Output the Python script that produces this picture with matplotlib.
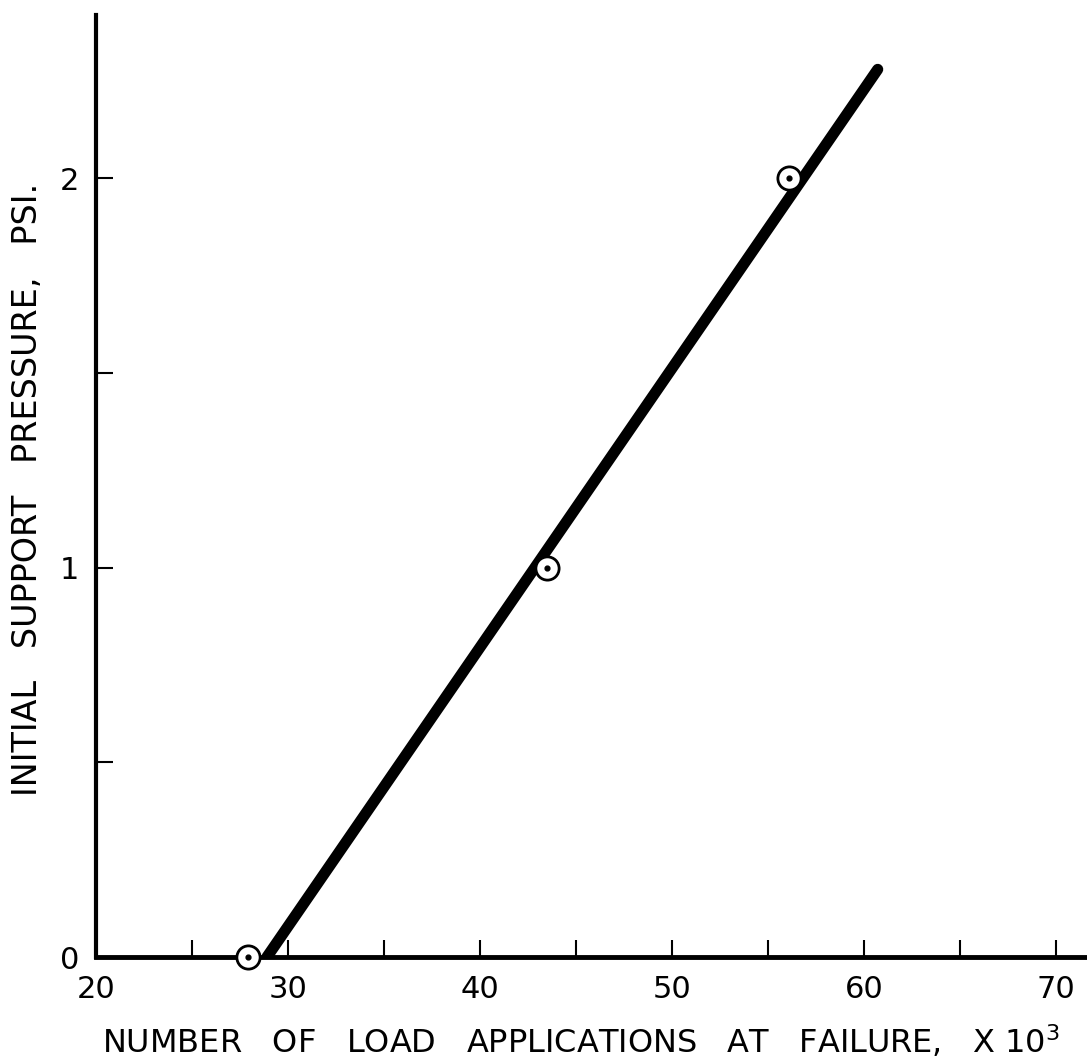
import matplotlib
matplotlib.use('Agg')
import matplotlib.pyplot as plt
import numpy as np

# data
line_x = [28.9, 60.7]
line_y = [0.0, 2.28]
pts_x = [27.9, 43.5, 56.1]
pts_y = [0.0, 1.0, 2.0]
xticks_major = [20, 30, 40, 50, 60, 70]
xticks_minor = [25, 35, 45, 55, 65]
yticks_major = [0, 1, 2]
yticks_minor = [0.5, 1.5]

plt.rcParams['font.family'] = ['DejaVu Sans']
fig = plt.figure(figsize=(10.87, 10.61), dpi=100)
ax = fig.add_axes([0.0883, 0.098, 0.910, 0.888])

ax.plot(line_x, line_y, color='black', lw=8, solid_capstyle='round', zorder=2)
ax.scatter(pts_x, pts_y, s=280, facecolor='white', edgecolor='black', linewidth=2, zorder=3, clip_on=False)
ax.scatter(pts_x, pts_y, s=12, color='black', zorder=4, clip_on=False)

ax.set_xlim(20, 71.5)
ax.set_ylim(0, 2.42)
for s in ['top', 'right']:
    ax.spines[s].set_visible(False)
ax.spines['left'].set_linewidth(3)
ax.spines['bottom'].set_linewidth(3.5)

ax.set_xticks(xticks_major)
ax.set_xticks(xticks_minor, minor=True)
ax.set_yticks(yticks_major)
ax.set_yticks(yticks_minor, minor=True)
ax.tick_params(which='both', direction='in', length=12, width=1.5, labelsize=22)
ax.tick_params(axis='x', which='major', pad=13)
ax.tick_params(axis='y', which='major', pad=12)

ax.set_xlabel('NUMBER   OF   LOAD   APPLICATIONS   AT   FAILURE,   X 10$^{3}$',
              fontsize=23, va='center')
ax.set_ylabel('INITIAL   SUPPORT   PRESSURE,   PSI.', fontsize=24, va='center')
ax.xaxis.set_label_coords(0.49, -0.090)
ax.yaxis.set_label_coords(-0.069, 0.496)

plt.savefig('out.png', dpi=100)
